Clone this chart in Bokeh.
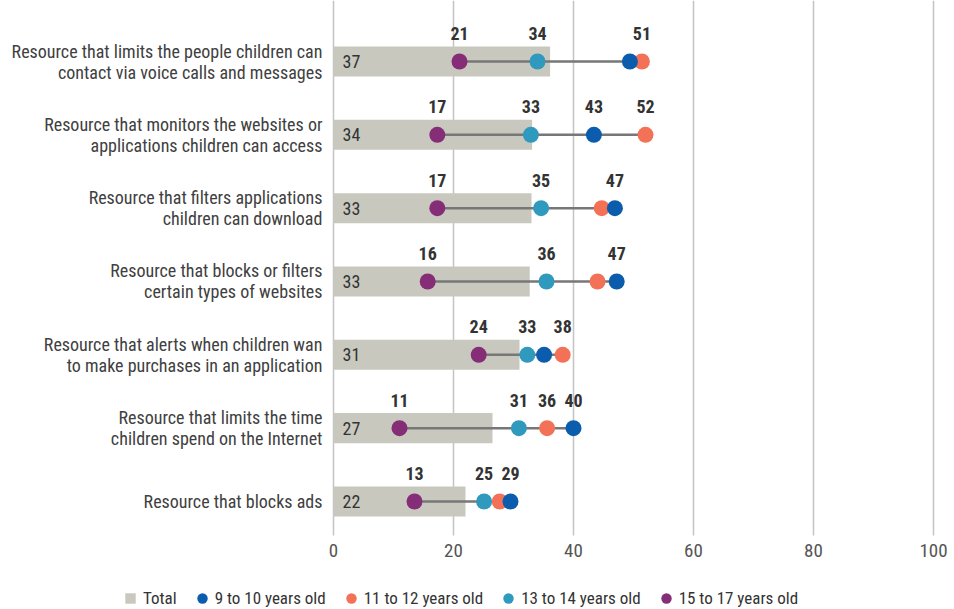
import numpy as np
from bokeh.plotting import figure
from bokeh.models import ColumnDataSource, Legend, LegendItem, Range1d
from bokeh.core.properties import value
from bokeh.embed import file_html
from bokeh.resources import INLINE

categories = [
    "Resource that limits the people children can\ncontact via voice calls and messages",
    "Resource that monitors the websites or\napplications children can access",
    "Resource that filters applications\nchildren can download",
    "Resource that blocks or filters\ncertain types of websites",
    "Resource that alerts when children wan\nto make purchases in an application",
    "Resource that limits the time\nchildren spend on the Internet",
    "Resource that blocks ads",
]
total = [36.1, 33.1, 33.0, 32.7, 31.0, 26.5, 22.0]
total_labels = ["37", "34", "33", "33", "31", "27", "22"]
age_9_10 = [49.4, 43.4, 46.9, 47.2, 35.1, 40.0, 29.5]
age_9_10_labels = ["", "43", "47", "47", "", "40", "29"]
age_11_12 = [51.4, 52.0, 44.7, 44.0, 38.2, 35.6, 27.7]
age_11_12_labels = ["51", "52", "", "", "38", "36", ""]
age_13_14 = [34.0, 32.9, 34.6, 35.5, 32.3, 30.9, 25.1]
age_13_14_labels = ["34", "33", "35", "36", "33", "31", "25"]
age_15_17 = [21.0, 17.3, 17.3, 15.7, 24.2, 11.0, 13.5]
age_15_17_labels = ["21", "17", "17", "16", "24", "11", "13"]
x_ticks = [0, 20, 40, 60, 80, 100]
x_tick_labels = ["0", "20", "40", "60", "80", "100"]
series_names = ["Total", "9 to 10 years old", "11 to 12 years old",
                "13 to 14 years old", "15 to 17 years old"]

FONT = "Liberation Sans Narrow, Roboto Condensed, Roboto, sans-serif"
C_TOTAL = "#C8C8BF"
C_9 = "#0B5CAD"
C_11 = "#F37257"
C_13 = "#2F9ABE"
C_15 = "#862D78"

n = len(categories)
ypos = [n - 1 - i for i in range(n)]

# layout geometry (screen-space mapping of the chart area)
X_LEFT, X_RIGHT = -55.5, 103.5
Y_TOP, Y_BOTTOM = n - 1 + 0.832, -1.473
GRID_BOTTOM = -0.464
TICK_Y = -0.662
CAT_X = -1.85

p = figure(width=954, height=609, output_backend="svg", toolbar_location=None,
           x_range=Range1d(X_LEFT, X_RIGHT), y_range=Range1d(Y_BOTTOM, Y_TOP),
           x_axis_location=None, y_axis_location=None,
           min_border_left=0, min_border_right=0, min_border_top=0, min_border_bottom=0)
p.outline_line_color = None
p.grid.visible = False
p.background_fill_color = "white"

gsrc = ColumnDataSource(dict(x=x_ticks, lbl=x_tick_labels,
                             y0=[GRID_BOTTOM] * len(x_ticks), y1=[Y_TOP] * len(x_ticks),
                             ty=[TICK_Y] * len(x_ticks)))
p.segment(x0="x", x1="x", y0="y0", y1="y1", source=gsrc, line_color="#C4C4C4", line_width=1.5)
p.text(x="x", y="ty", text="lbl", source=gsrc, text_align="center", text_baseline="middle",
       text_font=value(FONT), text_font_size="19px", text_color="#555555")

src = ColumnDataSource(dict(
    y=ypos, cat=categories, catx=[CAT_X] * n,
    total=total, total_lbl=total_labels,
    a9=age_9_10, a9l=age_9_10_labels,
    a11=age_11_12, a11l=age_11_12_labels,
    a13=age_13_14, a13l=age_13_14_labels,
    a15=age_15_17, a15l=age_15_17_labels,
    lo=np.min([age_9_10, age_11_12, age_13_14, age_15_17], axis=0),
    hi=np.max([age_9_10, age_11_12, age_13_14, age_15_17], axis=0),
    zero=[0] * n,
))

p.text(x="catx", y="y", text="cat", source=src, text_align="right", text_baseline="middle",
       text_font=value(FONT), text_font_size="18px", text_color="#404040",
       text_line_height=1.0)

p.hbar(y="y", left=0, right="total", height=0.41, source=src,
       fill_color=C_TOTAL, line_color=None)

p.text(x="zero", y="y", text="total_lbl", source=src, x_offset=9,
       text_align="left", text_baseline="middle", text_font=value(FONT),
       text_font_size="18px", text_color="#333333")

p.segment(x0="lo", x1="hi", y0="y", y1="y", source=src, line_color="#777777", line_width=2.5)

rend = {}
for key, col in [("a15", C_15), ("a13", C_13), ("a11", C_11), ("a9", C_9)]:
    rend[key] = p.scatter(x=key, y="y", source=src, size=16, fill_color=col, line_color=None)
    p.text(x=key, y="y", text=key + "l", source=src, y_offset=-28,
           text_align="center", text_baseline="middle", text_font=value(FONT),
           text_font_size="18px", text_font_style="bold", text_color="#333333")

# legend key for "Total": a zero-size square marker on the bar ends (invisible on the chart)
tot_key = p.scatter(x="total", y="y", source=src, marker="square", size=0,
                    fill_color=C_TOTAL, line_color=None)

rs = [tot_key, rend["a9"], rend["a11"], rend["a13"], rend["a15"]]
legend = Legend(items=[LegendItem(label=nm, renderers=[r]) for nm, r in zip(series_names, rs)],
                orientation="horizontal", location=(117, -2))
legend.label_text_font = FONT
legend.label_text_font_size = "17px"
legend.label_text_color = "#333333"
legend.border_line_color = None
legend.background_fill_alpha = 0
legend.glyph_width = 26
legend.glyph_height = 26
legend.label_standoff = 0
legend.spacing = 12
legend.padding = 0
legend.margin = 0
p.add_layout(legend, "center")

open("out.html", "w").write(file_html(p, INLINE))
